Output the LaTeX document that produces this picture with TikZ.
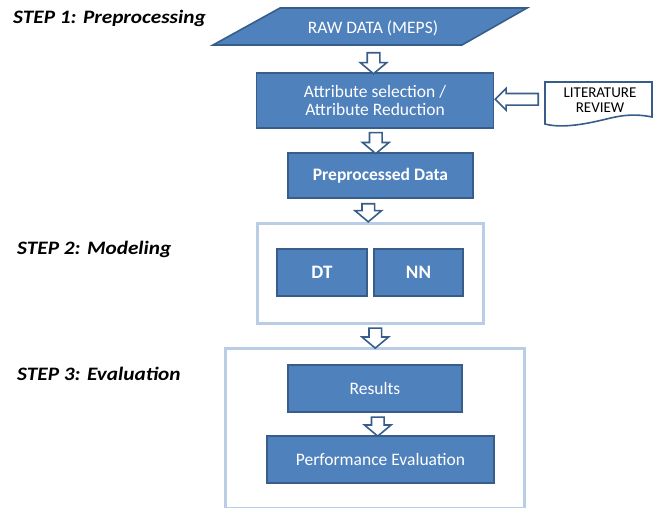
\documentclass[tikz,border=0pt]{standalone}
\usepackage{fontspec}
\setmainfont{Carlito}
\usetikzlibrary{shapes.arrows,calc}
\definecolor{boxfill}{RGB}{79,129,189}
\definecolor{boxline}{RGB}{56,93,138}
\definecolor{framecol}{RGB}{185,205,229}
\tikzset{
  bluebox/.style={draw=boxline, line width=1.6pt, fill=boxfill, text=white, align=center, inner sep=0pt},
  frame/.style={draw=framecol, line width=3pt, fill=white, inner sep=0pt},
  blockarr/.style={single arrow, draw=boxline, line width=1.6pt, fill=white, rotate=-90,
     inner xsep=0pt, inner ysep=5.5pt, single arrow head extend=7pt, single arrow tip angle=100, anchor=center},
  leftarr/.style={single arrow, draw=boxline, line width=1.6pt, fill=white, shape border rotate=180,
     inner xsep=0pt, inner ysep=5pt, single arrow head extend=5pt, single arrow tip angle=90, anchor=center},
  steplabel/.style={font=\fontsize{19}{22}\selectfont\bfseries\itshape, anchor=west, inner sep=0pt, xscale=1.12},
  txt/.style={font=\fontsize{17.5}{18}\selectfont},
  btxt/.style={font=\fontsize{17.5}{20}\selectfont\bfseries},
}
\begin{document}
\begin{tikzpicture}[x=1pt,y=-1pt]
\useasboundingbox (0,0) rectangle (659,507);
% frames
\node[frame, minimum width=226pt, minimum height=100pt] (model) at (370,273) {};
\node[frame, minimum width=299pt, minimum height=160pt] (eval) at (374.5,428) {};
% raw data parallelogram
\coordinate (p1) at (280,8);
\coordinate (p2) at (527,8);
\coordinate (p3) at (462,45);
\coordinate (p4) at (213,45);
\draw[draw=boxline, line width=1.6pt, fill=boxfill] (p1) -- (p2) -- (p3) -- (p4) -- cycle;
\node[txt, text=white, inner sep=0pt] (raw) at (373,28) {RAW DATA (MEPS)};
\coordinate (rawb) at (372,45);
% boxes
\node[bluebox, txt, minimum width=237pt, minimum height=55pt] (attr) at (375,100.5) {Attribute selection /\\Attribute Reduction};
\node[bluebox, btxt, minimum width=185pt, minimum height=45pt] (prep) at (380.5,175.5) {Preprocessed Data};
\node[bluebox, font=\fontsize{19}{21}\selectfont\bfseries, minimum width=90pt, minimum height=47pt] (dt) at (322,272.5) {DT};
\node[bluebox, font=\fontsize{19}{21}\selectfont\bfseries, minimum width=89pt, minimum height=47pt] (nn) at (418.5,272.5) {NN};
\node[bluebox, txt, minimum width=174pt, minimum height=47pt] (res) at (375,388.5) {Results};
\node[bluebox, txt, minimum width=227pt, minimum height=47pt] (perf) at (380.5,459.5) {Performance Evaluation};
% literature review document
\draw[draw=boxline, line width=1.6pt, fill=white] (545,82) -- (652,82) -- (652,117)
  .. controls (628,112) and (612,118) .. (598,121)
  .. controls (580,125) and (560,128) .. (545,124) -- cycle;
\node[font=\fontsize{15}{15.5}\selectfont, align=center, inner sep=0pt] (lit) at (600,100) {LITERATURE\\REVIEW};
\coordinate (litw) at (545,98);
% step labels
\node[steplabel] (s1) at (13,18) {STEP 1: Preprocessing};
\node[steplabel] (s2) at (17,249) {STEP 2: Modeling};
\node[steplabel] (s3) at (17,374) {STEP 3: Evaluation};
% block arrows
\node[blockarr, minimum height=21pt] (a1) at ($(rawb)!0.5!(attr.north)+(0,2)$) {};
\node[blockarr, minimum height=21pt] at ($(attr.south)!0.5!(prep.north)+(-2,0)$) {};
\node[blockarr, minimum height=18pt] at ($(prep.south)!0.5!(model.north)+(-7,0)$) {};
\node[blockarr, minimum height=20pt] at ($(model.south)!0.5!(eval.north)+(3,0)$) {};
\node[blockarr, minimum height=19pt] at ($(res.south)!0.5!(perf.north)$) {};
\node[leftarr, minimum height=43pt] at ($(litw)!0.5!(attr.east)$) {};
\end{tikzpicture}
\end{document}
